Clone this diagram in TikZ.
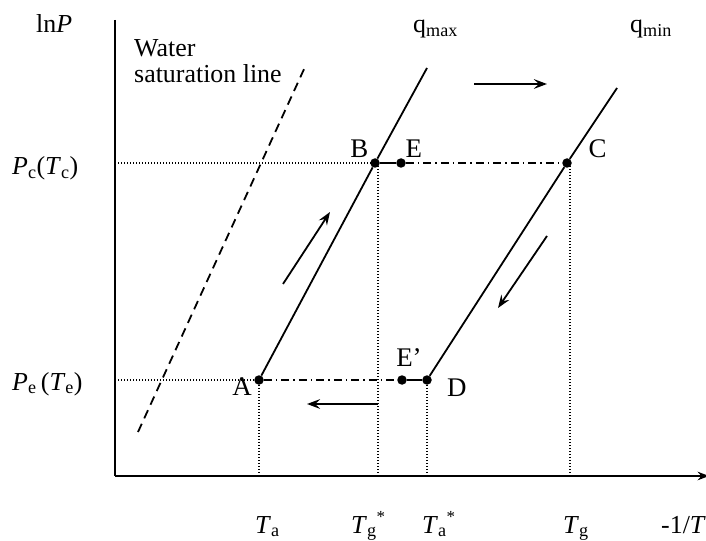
\documentclass[tikz,border=0pt]{standalone}
\usepackage{fontspec}
\setmainfont{Liberation Serif}
\usetikzlibrary{arrows.meta,positioning}

\begin{document}
\begin{tikzpicture}[
x=1bp, y=-1bp,
font=\fontsize{26}{27}\selectfont,
dot/.style={circle, fill, inner sep=0pt, minimum size=9.5bp},
curve/.style={line width=1.8bp},
guide/.style={line width=1.3bp, dash pattern=on 1.2bp off 1.8bp},
chain/.style={line width=1.4bp, dash pattern=on 8bp off 4bp on 1.5bp off 4bp},
arrow/.style={-{Stealth[length=4.6mm, width=3.4mm, inset=1.7mm]}, line width=1.8bp},
ptlabel/.style={font=\fontsize{27}{28}\selectfont, inner sep=0pt},
lbl/.style={inner sep=0pt, anchor=base west}
]
\useasboundingbox (0,0) rectangle (706,541);

% axes
\coordinate (O) at (115,476);
\coordinate (ytop) at (115,20);
\coordinate (xend) at (709,476);
\draw[line width=2.3bp] (ytop) -- (O);
\draw[line width=2.3bp, -{Stealth[length=4mm, width=3mm]}] (O) -- (xend);

% water saturation line
\coordinate (ws1) at (138,432);
\coordinate (ws2) at (305,67);
\draw[curve, dash pattern=on 9bp off 6bp] (ws1) -- (ws2);

% states
\node[dot] (A) at (259,380) {};
\node[dot] (B) at (375,163) {};
\node[dot] (E) at (401,163) {};
\node[dot] (C) at (567,163) {};
\node[dot] (D) at (427,380) {};
\node[dot] (Ep) at (402,380) {};
\coordinate (qmaxtop) at (427,68);
\coordinate (qmintop) at (617,88);

% isosteres
\draw[curve] (A) -- (B) -- (qmaxtop);
\draw[curve] (D) -- (C) -- (qmintop);
\draw[curve] (B) -- (E);
\draw[curve] (Ep) -- (D);
\draw[chain] (E) -- (C);
\draw[chain] (A) -- (Ep);

% guides to the axes
\draw[guide] (O |- B) -- (B);
\draw[guide] (O |- A) -- (A);
\draw[guide] (A) -- (A |- O);
\draw[guide] ([xshift=3bp]B.center) -- ([xshift=3bp]B.center |- O);
\draw[guide] (D) -- (D |- O);
\draw[guide] ([xshift=3bp]C.center) -- ([xshift=3bp]C.center |- O);

% cycle direction
\coordinate (up1) at (283,284);
\coordinate (up2) at (330,212);
\coordinate (rt1) at (474,84);
\coordinate (rt2) at (547,84);
\coordinate (dn1) at (547,236);
\coordinate (dn2) at (498,308);
\coordinate (lt1) at (378,404);
\coordinate (lt2) at (307,404);
\draw[arrow] (up1) -- (up2);
\draw[arrow] (rt1) -- (rt2);
\draw[arrow] (dn1) -- (dn2);
\draw[arrow] (lt1) -- (lt2);

% point labels
\node[ptlabel, left=2bp of A, yshift=-7bp] (lA) {A};
\node[ptlabel, above left=2bp and 3bp of B] (lB) {B};
\node[ptlabel, above right=2bp and 1bp of E] (lE) {E};
\node[ptlabel, above right=2bp and 18bp of C] (lC) {C};
\node[ptlabel, right=15bp of D, yshift=-8bp] (lD) {D};
\node[ptlabel, above=8bp of Ep, xshift=7bp] (lEp) {E’};

% axis labels
\node[lbl] (lnP) at (36,33) {ln\textit{P}};
\node[lbl] (Pc) at (12,175) {\textit{P}\textsubscript{c}(\textit{T}\textsubscript{c})};
\node[lbl] (Pe) at (12,390) {\textit{P}\textsubscript{e}\,(\textit{T}\textsubscript{e})};
\node[lbl] (qmax) at (413,33) {q\textsubscript{max}};
\node[lbl] (qmin) at (630,33) {q\textsubscript{min}};
\node[lbl, align=left] (water) at (134,57) {Water};
\node[lbl, below=0bp of water.base west, anchor=base west, yshift=-26bp] (sat) {saturation line};
\node[lbl] (Ta) at (255,533) {\textit{T}\textsubscript{a}};
\node[lbl] (Tgs) at (351,533) {\textit{T}\textsubscript{g}\raisebox{0.42em}{\fontsize{17}{17}\selectfont *}};
\node[lbl] (Tas) at (422,533) {\textit{T}\textsubscript{a}\raisebox{0.42em}{\fontsize{17}{17}\selectfont *}};
\node[lbl] (Tg) at (563,533) {\textit{T}\textsubscript{g}};
\node[lbl] (invT) at (661,533) {-1/\textit{T}};
\end{tikzpicture}
\end{document}
